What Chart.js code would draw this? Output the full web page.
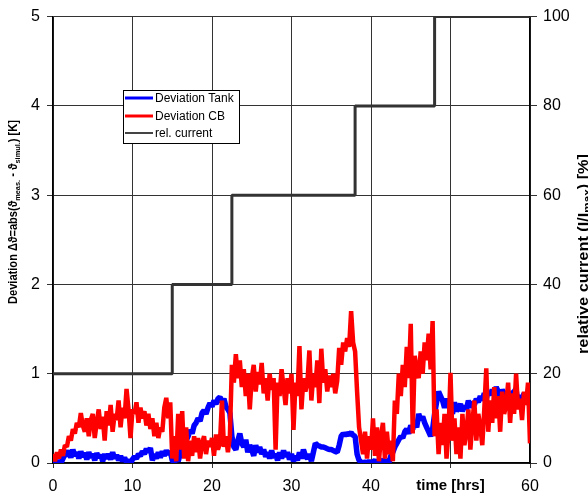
<!DOCTYPE html>
<html>
<head>
<meta charset="utf-8">
<script src="https://cdn.jsdelivr.net/npm/chart.js@4"></script>
<style>
  html, body { margin: 0; padding: 0; background: #fff; }
  canvas { display: block; }
</style>
</head>
<body>
<canvas id="chart" width="588" height="498"></canvas>
<script>
// sample spacing of the measured series, in hours
const sampleStep = 0.25;

// Deviation Tank [K], one row per hour (4 samples)
const tankValues = [
  0.00, 0.00, 0.00, 0.02,  0.00, 0.05, 0.10, 0.08,  0.14, 0.06, 0.15, 0.08,
  0.12, 0.05, 0.13, 0.07,  0.11, 0.04, 0.12, 0.06,  0.10, 0.03, 0.11, 0.06,
  0.09, 0.02, 0.10, 0.05,  0.10, 0.04, 0.12, 0.05,  0.09, 0.03, 0.08, 0.02,
  0.06, 0.01, 0.03, 0.00,  0.04, 0.07, 0.05, 0.10,  0.08, 0.13, 0.10, 0.16,
  0.12, 0.17, 0.03, 0.10,  0.05, 0.12, 0.06, 0.13,  0.08, 0.14, 0.10, 0.13,
  0.03, 0.00, 0.05, 0.02,  0.10, 0.18, 0.14, 0.25,  0.30, 0.37, 0.33, 0.42,
  0.45, 0.50, 0.47, 0.56,  0.59, 0.55, 0.62, 0.67,  0.63, 0.70, 0.66, 0.72,
  0.74, 0.68, 0.72, 0.63,  0.60, 0.56, 0.30, 0.18,  0.15, 0.25, 0.33, 0.22,
  0.18, 0.26, 0.12, 0.20,  0.15, 0.08, 0.20, 0.12,  0.18, 0.10, 0.15, 0.07,
  0.12, 0.05, 0.14, 0.06,  0.10, 0.03, 0.12, 0.05,  0.14, 0.07, 0.12, 0.04,
  0.10, 0.02, 0.08, 0.03,  0.12, 0.05, 0.15, 0.08,  0.05, 0.10, 0.02, 0.12,
  0.22, 0.20, 0.19, 0.18,  0.18, 0.17, 0.16, 0.15,  0.15, 0.14, 0.13, 0.12,
  0.20, 0.30, 0.33, 0.31,  0.33, 0.32, 0.34, 0.31,  0.30, 0.10, 0.03, 0.01,
  0.00, 0.01, 0.00, 0.02,  0.00, 0.01, 0.03, 0.00,  0.02, 0.00, 0.04, 0.01,
  0.03, 0.00, 0.08, 0.12,  0.18, 0.22, 0.26, 0.30,  0.28, 0.35, 0.38, 0.33,
  0.42, 0.38, 0.45, 0.40,  0.55, 0.48, 0.52, 0.45,  0.40, 0.35, 0.30, 0.38,
  0.55, 0.68, 0.80, 0.75,  0.70, 0.62, 0.72, 0.65,  0.60, 0.55, 0.68, 0.58,
  0.62, 0.66, 0.58, 0.64,  0.60, 0.70, 0.62, 0.68,  0.65, 0.72, 0.68, 0.75,
  0.70, 0.78, 0.72, 0.80,  0.76, 0.82, 0.78, 0.85,  0.80, 0.74, 0.82, 0.78,
  0.75, 0.80, 0.70, 0.78,  0.80, 0.83, 0.62, 0.76,  0.70, 0.78, 0.72, 0.75,
  0.62
];

// Deviation CB [K], one row per hour (4 samples)
const cbValues = [
  0.10, 0.02, 0.12, 0.05,  0.15, 0.08, 0.20, 0.18,  0.30, 0.25, 0.38, 0.33,
  0.45, 0.40, 0.56, 0.42,  0.35, 0.50, 0.30, 0.48,  0.55, 0.28, 0.45, 0.60,
  0.38, 0.52, 0.25, 0.58,  0.42, 0.65, 0.35, 0.55,  0.48, 0.70, 0.40, 0.62,
  0.50, 0.83, 0.60, 0.28,  0.60, 0.55, 0.68, 0.45,  0.62, 0.50, 0.58, 0.42,
  0.55, 0.38, 0.50, 0.30,  0.45, 0.28, 0.40, 0.35,  0.62, 0.73, 0.50, 0.68,
  0.05, 0.30, 0.02, 0.55,  0.15, 0.58, 0.05, 0.40,  0.02, 0.25, 0.08, 0.30,
  0.12, 0.28, 0.05, 0.22,  0.30, 0.10, 0.25, 0.18,  0.28, 0.08, 0.32, 0.15,
  0.22, 0.70, 0.18, 0.30,  0.12, 0.30, 1.10, 0.90,  1.22, 0.95, 1.15, 0.85,
  1.05, 0.75, 1.00, 0.60,  0.95, 1.10, 0.80, 1.02,  0.88, 1.12, 0.78, 0.95,
  0.70, 1.00, 0.82, 0.95,  0.15, 0.90, 0.75, 1.05,  0.85, 0.65, 0.95, 0.78,
  1.00, 0.37, 0.90, 0.75,  1.31, 0.60, 0.95, 0.80,  0.90, 1.26, 0.70, 1.00,
  0.85, 1.15, 0.67, 1.28,  0.90, 1.05, 0.80, 0.98,  0.85, 1.00, 0.78, 0.92,
  1.29, 1.10, 1.35, 1.25,  1.40, 1.30, 1.70, 1.35,  1.25, 0.80, 0.40, 0.25,
  0.10, 0.35, 0.05, 0.30,  0.15, 0.50, 0.08, 0.40,  0.02, 0.30, 0.45, 0.05,
  0.35, 0.10, 0.25, 0.02,  0.70, 0.55, 1.00, 0.75,  1.10, 0.85, 1.30, 0.95,
  1.56, 0.33, 1.20, 1.05,  0.95, 1.25, 1.00, 1.35,  1.15, 1.45, 1.05, 1.59,
  0.30, 0.60, 0.10, 0.45,  0.20, 0.55, 0.05, 0.35,  1.01, 0.25, 0.50, 0.10,
  0.40, 0.05, 0.55, 0.20,  0.35, 0.60, 0.15, 0.45,  0.70, 0.25, 0.55, 0.40,
  0.20, 0.60, 1.06, 0.35,  0.70, 0.45, 0.85, 0.50,  0.75, 0.35, 0.80, 0.55,
  0.65, 0.90, 0.45, 0.78,  0.55, 1.00, 0.60, 0.72,  0.48, 0.80, 0.65, 0.90,
  0.22
];

// relative current (I/I_max) [%], step changes
const currentTimes  = [0, 15, 22.5, 38, 48, 60];
const currentValues = [20, 40, 60, 80, 100, 100];

const xTicks = [0, 10, 20, 30, 40, 50, 60];
const xTitleTick = 50;           // tick whose label is replaced by the axis title
const xTitle = 'time [hrs]';

const FONT = 'Arial, "Liberation Sans", sans-serif';

function toPoints(values) {
  return values.map((v, i) => ({ x: i * sampleStep, y: v }));
}

// rotated axis title with subscripts, fitted to a given length
function drawRich(ctx, parts, cx, cy, size, length) {
  ctx.save();
  ctx.translate(cx, cy);
  ctx.rotate(-Math.PI / 2);
  const bigFont = 'bold ' + size + 'px ' + FONT;
  const smallFont = 'bold ' + Math.round(size * 0.7) + 'px ' + FONT;
  let total = 0;
  parts.forEach(p => {
    ctx.font = p.sub ? smallFont : bigFont;
    p.w = ctx.measureText(p.t).width;
    total += p.w;
  });
  ctx.scale(length / total, 1);
  let x = -total / 2;
  ctx.fillStyle = '#000';
  ctx.textBaseline = 'middle';
  ctx.textAlign = 'left';
  parts.forEach(p => {
    ctx.font = p.sub ? smallFont : bigFont;
    ctx.fillText(p.t, x, p.sub ? size * 0.3 : 0);
    x += p.w;
  });
  ctx.restore();
}

const titlesPlugin = {
  id: 'titles',
  afterDraw(chart) {
    const ctx = chart.ctx;
    drawRich(ctx, [
      { t: 'Deviation \u0394\u03d1=abs(\u03d1' }, { t: 'meas.', sub: true },
      { t: ' - \u03d1' }, { t: 'simul.', sub: true }, { t: ') [K]' }
    ], 14, 212, 12, 184);
    drawRich(ctx, [
      { t: 'relative current (I/I' }, { t: 'max', sub: true }, { t: ') [%]' }
    ], 584, 254, 14, 200);
  }
};

const legendPlugin = {
  id: 'boxLegend',
  afterDraw(chart) {
    const ctx = chart.ctx;
    const x0 = 123, y0 = 90, w = 116, h = 53;
    ctx.save();
    ctx.fillStyle = '#fff';
    ctx.fillRect(x0, y0, w, h);
    ctx.strokeStyle = '#000';
    ctx.lineWidth = 1;
    ctx.strokeRect(x0 + 0.5, y0 + 0.5, w, h);
    ctx.font = '12px ' + FONT;
    ctx.textBaseline = 'middle';
    ctx.fillStyle = '#000';
    const rowY = [98, 116, 133];
    chart.data.datasets.forEach((ds, i) => {
      ctx.strokeStyle = ds.legendColor || ds.borderColor;
      ctx.lineWidth = ds.legendWidth;
      ctx.beginPath();
      ctx.moveTo(125, rowY[i]);
      ctx.lineTo(153, rowY[i]);
      ctx.stroke();
      ctx.fillText(ds.label, 155, rowY[i] + 0.5);
    });
    ctx.restore();
  }
};

const config = {
  type: 'line',
  data: {
    datasets: [{
      label: 'Deviation Tank',
      data: toPoints(tankValues),
      borderColor: '#0000ff',
      borderWidth: 5.5,
      legendWidth: 3,
      yAxisID: 'y',
      order: 2
    }, {
      label: 'Deviation CB',
      data: toPoints(cbValues),
      borderColor: '#ff0000',
      borderWidth: 4.5,
      legendWidth: 3,
      yAxisID: 'y',
      order: 1
    }, {
      label: 'rel. current',
      data: currentTimes.map((t, i) => ({ x: t, y: currentValues[i] })),
      borderColor: '#333333',
      legendColor: '#444444',
      borderWidth: 3,
      legendWidth: 2,
      stepped: 'before',
      yAxisID: 'y2',
      order: 0
    }]
  },
  options: {
    responsive: false,
    animation: false,
    layout: { padding: { top: 14, left: 0, right: 0, bottom: 0 } },
    elements: {
      point: { radius: 0 },
      line: { tension: 0, borderJoinStyle: 'bevel', borderCapStyle: 'butt' }
    },
    plugins: {
      legend: { display: false },
      tooltip: { enabled: false },
      title: { display: false }
    },
    scales: {
      x: {
        type: 'linear',
        min: 0,
        max: 60,
        afterBuildTicks: axis => { axis.ticks = xTicks.map(v => ({ value: v })); },
        afterFit: axis => { axis.height = 35; },
        ticks: {
          color: '#000',
          padding: 9,
          maxRotation: 0,
          callback: v => (v === xTitleTick ? xTitle : v),
          font: c => (c.tick && c.tick.value === xTitleTick
            ? { family: FONT, size: 15, weight: 'bold' }
            : { family: FONT, size: 16 })
        },
        grid: { color: '#333', lineWidth: 1, tickLength: 5 },
        border: { color: '#000', width: 1.5 }
      },
      y: {
        position: 'left',
        min: 0,
        max: 5,
        afterFit: axis => { axis.width = 53; },
        ticks: { stepSize: 1, color: '#000', padding: 7, font: { family: FONT, size: 16 } },
        grid: { color: '#333', lineWidth: 1, tickLength: 6 },
        border: { color: '#000', width: 1.5 }
      },
      y2: {
        position: 'right',
        min: 0,
        max: 100,
        afterFit: axis => { axis.width = 58; },
        ticks: { stepSize: 20, color: '#000', padding: 6, font: { family: FONT, size: 16 } },
        grid: { drawOnChartArea: false, color: '#333', tickLength: 7 },
        border: { color: '#000', width: 1.5 }
      }
    }
  },
  plugins: [legendPlugin, titlesPlugin]
};

new Chart(document.getElementById('chart'), config);
</script>
</body>
</html>
